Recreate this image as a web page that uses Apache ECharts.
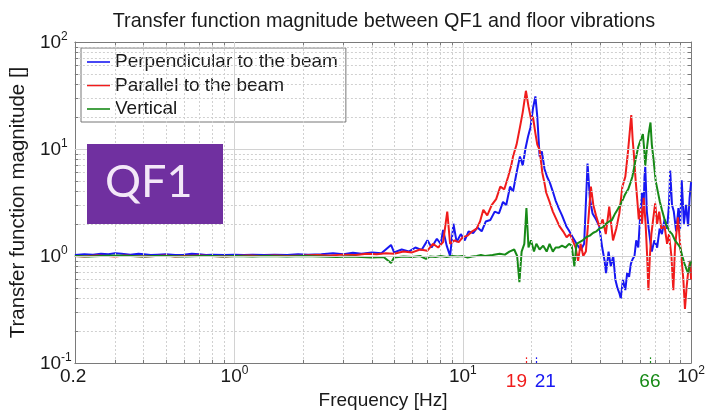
<!DOCTYPE html>
<html><head><meta charset="utf-8">
<script src="https://cdn.jsdelivr.net/npm/echarts@6/dist/echarts.min.js"></script>
<style>html,body{margin:0;padding:0;background:#fff}#c{width:708px;height:417px}</style>
</head><body><div id="c"></div>
<script>
const seriesNames = ['Perpendicular to the beam', 'Parallel to the beam', 'Vertical'];

const perpendicular = [
[0.2,1.02],[0.22,1.04],[0.24,1.03],[0.26,1.05],[0.28,1.04],[0.3,1.06],[0.32,1.05],[0.35,1.03],[0.38,1.05],[0.4,1.04],
[0.43,1.02],[0.46,1.03],[0.5,1.04],[0.55,1.02],[0.6,1.03],[0.65,1.05],[0.7,1.04],[0.75,1.02],[0.8,1.03],[0.9,1.02],
[1.0,1.03],[1.1,1.02],[1.2,1.03],[1.35,1.02],[1.5,1.03],[1.7,1.02],[1.9,1.04],[2.1,1.03],[2.4,1.04],[2.7,1.06],
[3.0,1.04],[3.3,1.07],[3.6,1.05],[4.0,1.08],[4.4,1.06],[4.85,1.27],[5.0,1.08],[5.4,1.15],[5.8,1.1],[6.2,1.2],
[6.6,1.14],[7.0,1.4],[7.3,1.2],[7.7,1.45],[8.0,1.3],[8.2,1.75],[8.5,1.25],[8.8,1.0],[9.1,2.0],[9.4,1.35],
[9.8,1.6],[10.2,1.4],[10.6,1.7],[11.1,1.64],[11.6,1.85],[12.1,1.7],[12.6,2.1],[13.2,2.17],[13.8,2.6],[14.4,2.5],
[15.0,3.2],[15.5,3.0],[16.1,4.45],[16.6,4.0],[17.2,6.0],[17.8,8.5],[18.3,7.0],[18.8,10],[19.3,13],[19.8,16],
[20.3,24],[20.8,31],[21.2,20],[21.7,8.5],[22.2,9.5],[22.8,6.5],[23.4,5.5],[24.1,4.8],[24.8,4.0],[25.5,3.3],
[26.3,2.8],[27.2,2.4],[28.4,1.9],[29.3,1.7],[30.3,1.5],[31.5,1.3],[32.9,1.14],[34.0,1.3],[35.2,7.3],[36.0,3.5],
[37.0,2.5],[38.3,2.2],[39.6,1.9],[40.8,1.2],[41.8,0.9],[42.4,0.69],[43.5,1.1],[44.5,0.8],[45.6,1.0],[46.6,0.6],
[47.6,0.5],[48.5,0.45],[49.2,0.4],[50.3,0.6],[51.5,0.48],[52.5,0.7],[53.5,0.64],[54.5,0.85],[55.4,0.93],[56.5,1.0],
[57.5,1.4],[58.7,1.2],[60.0,2.6],[61.0,3.9],[62.0,3.0],[62.5,5.5],[63.0,6.8],[64.0,2.6],[65.2,1.8],[66.5,1.3],
[67.3,1.1],[69.0,1.4],[71.0,1.2],[72.8,1.8],[74.5,1.6],[76.5,2.2],[78.5,1.8],[80.0,3.0],[81.0,6.3],[82.5,3.0],
[84.0,2.6],[86.0,1.7],[88.0,2.8],[89.5,1.8],[91.0,5.1],[93.0,2.0],[95.0,3.0],[97.0,1.9],[98.5,3.5],[100,4.9]
];

const parallel = [
[0.2,1.0],[0.22,0.99],[0.25,1.01],[0.28,1.0],[0.3,0.99],[0.33,1.01],[0.36,1.0],[0.4,0.99],[0.45,1.0],[0.5,1.01],
[0.55,0.99],[0.6,1.0],[0.7,1.01],[0.8,1.0],[0.9,0.99],[1.0,1.0],[1.15,1.01],[1.3,1.0],[1.5,1.01],[1.7,1.0],
[2.0,1.01],[2.3,1.02],[2.6,1.01],[3.0,1.03],[3.4,1.02],[3.8,1.05],[4.2,1.04],[4.6,1.06],[5.0,1.05],[5.5,1.1],
[6.0,1.08],[6.5,1.15],[7.0,1.12],[7.4,1.3],[7.8,1.2],[8.2,1.35],[8.55,2.6],[8.8,1.3],[9.2,1.4],[9.6,1.35],
[10.0,1.5],[10.5,1.55],[11.0,1.7],[11.5,1.8],[11.9,2.1],[12.3,2.7],[12.8,2.4],[13.4,3.0],[14.0,3.4],[14.6,4.45],
[15.2,4.2],[15.8,5.5],[16.3,7.0],[16.6,8.5],[17.2,11],[17.8,16],[18.3,22],[18.9,35],[19.4,25],[19.9,19],
[20.3,20],[20.8,14],[21.2,11],[21.7,9.8],[22.3,6.0],[22.8,4.8],[23.2,3.9],[24.0,3.2],[24.8,2.6],[25.7,2.2],
[26.5,1.9],[27.5,1.7],[28.5,1.5],[29.4,1.6],[30.3,1.4],[31.2,1.2],[32.0,0.9],[32.8,1.3],[33.7,1.0],[34.6,1.1],
[35.5,2.2],[36.4,4.45],[37.3,3.0],[38.3,2.4],[39.6,1.9],[41.0,2.2],[42.3,1.6],[43.8,2.9],[45.5,1.4],[47.0,1.8],
[48.5,2.5],[50.0,4.45],[51.5,5.5],[52.8,9.0],[53.8,14],[54.7,20.8],[55.5,12],[56.1,9.2],[57.2,5.0],[58.2,3.2],
[59.0,2.2],[60.0,2.8],[61.0,2.0],[62.0,3.5],[63.2,2.0],[64.2,1.0],[65.0,0.48],[66.0,1.0],[67.0,1.6],[68.2,2.2],
[69.6,3.1],[71.0,2.0],[72.5,2.6],[74.0,1.8],[76.5,1.9],[78.5,1.3],[80.0,1.6],[82.0,1.0],[83.6,0.48],[85.0,1.2],
[87.6,2.3],[89.5,1.3],[91.0,0.9],[92.5,0.6],[94.0,0.32],[95.5,0.5],[97.0,0.7],[99.0,0.9],[100,0.6]
];

const vertical = [
[0.2,1.0],[0.23,0.99],[0.26,1.0],[0.3,1.01],[0.35,1.0],[0.4,0.99],[0.45,1.0],[0.5,1.0],[0.6,0.99],[0.7,1.0],
[0.8,1.0],[0.9,0.99],[1.0,1.0],[1.2,0.99],[1.4,1.0],[1.7,0.99],[2.0,1.0],[2.4,0.99],[2.8,0.98],[3.2,0.99],
[3.6,0.98],[4.0,0.97],[4.5,0.98],[4.85,0.86],[5.0,0.97],[5.5,0.99],[6.0,0.98],[6.5,1.0],[6.9,0.94],[7.2,0.99],
[7.6,0.98],[8.0,1.0],[8.5,0.98],[9.0,1.0],[9.5,0.99],[10,1.0],[10.5,0.97],[11,0.99],[11.5,1.0],[12,1.02],
[12.5,1.0],[13.5,1.02],[14.5,1.05],[15.3,1.03],[16,1.1],[16.8,1.15],[17.3,1.0],[17.7,0.57],[18.1,1.1],[18.6,1.3],
[19.0,2.8],[19.4,1.2],[19.9,1.4],[20.5,1.1],[21,1.3],[21.7,1.15],[22.5,1.25],[23.3,1.1],[24,1.3],[24.8,1.1],
[25.5,1.2],[26.3,1.2],[27.2,1.25],[28.2,1.2],[29.2,1.3],[30,1.25],[30.8,0.8],[31.5,1.3],[32.5,1.35],[33.5,1.4],
[34.7,1.5],[36,1.55],[37.3,1.65],[38.5,1.7],[39.6,1.8],[41,1.85],[42.3,2.0],[43.7,2.1],[45,2.17],[46.5,2.5],
[48,2.8],[49,3.0],[50,3.3],[51.5,3.8],[53,4.2],[54.2,4.8],[55.3,5.5],[56.5,7.0],[57.5,8.5],[58.7,10.5],
[60,12],[61.5,13.8],[62.3,10],[63,7.0],[64,10],[65.2,14],[66.4,17.7],[67.3,11],[68.5,7.9],[70,5.0],
[71.5,4.0],[73,3.2],[74.5,2.7],[76.5,2.2],[78.5,1.9],[80.5,1.7],[82.6,1.6],[85,1.4],[87.3,1.3],[89.5,1.2],
[91.5,1.0],[93.5,0.85],[95.5,0.75],[97,0.69],[98.5,0.8],[100,0.9]
];

const xMajorGrid = [1, 10];
const xMinorGrid = [0.3,0.4,0.5,0.6,0.7,0.8,0.9,2,3,4,5,6,7,8,9,20,30,40,50,60,70,80,90];
const yMajorGrid = [1, 10];
const yMinorGrid = [0.2,0.3,0.4,0.5,0.6,0.7,0.8,0.9,2,3,4,5,6,7,8,9,20,30,40,50,60,70,80,90];
const peakFreqs = [19, 21, 66];
const peakLabels = ['19', '21', '66'];
const peakSeries = [1, 0, 2];

const FONT = 'Liberation Sans, Arial, Helvetica, sans-serif';
const colors = ['#1818f2', '#f01c1c', '#178a17'];
const X_MIN = 0.2, X_MAX = 100, Y_MIN = 0.1, Y_MAX = 100;

const rich = {
  b: { fontSize: 19, lineHeight: 20, fontFamily: FONT, color: '#1a1a1a', verticalAlign: 'bottom' },
  s: { fontSize: 12, lineHeight: 12, fontFamily: FONT, color: '#1a1a1a', verticalAlign: 'bottom', padding: [0, 0, 9, 0] }
};
function logLabel(v) {
  if (Math.abs(v - 0.2) < 1e-6) return '{b|0.2}{s| }';
  const e = Math.round(Math.log10(v));
  return '{b|10}{s|' + e + '}';
}

const gridMajor = { type: 'solid', color: '#d2d2d2', width: 1 };
const gridMinor = { type: [2, 2], color: '#d0d0d0', width: 1 };

const gridLines = [];
xMajorGrid.forEach(v => gridLines.push({ xAxis: v, lineStyle: gridMajor }));
xMinorGrid.forEach(v => gridLines.push({ xAxis: v, lineStyle: gridMinor }));
yMajorGrid.forEach(v => gridLines.push({ yAxis: v, lineStyle: gridMajor }));
yMinorGrid.forEach(v => gridLines.push({ yAxis: v, lineStyle: gridMinor }));

const tickSegs = [];
xMinorGrid.forEach(v => {
  tickSegs.push([{ coord: [v, Y_MIN] }, { coord: [v, Y_MIN * 1.07] }]);
  tickSegs.push([{ coord: [v, Y_MAX] }, { coord: [v, Y_MAX / 1.07] }]);
});
yMinorGrid.forEach(v => {
  tickSegs.push([{ coord: [X_MIN, v] }, { coord: [X_MIN * 1.035, v] }]);
  tickSegs.push([{ coord: [X_MAX, v] }, { coord: [X_MAX / 1.035, v] }]);
});

const peakPad = [[0, 20, 0, 0], [0, 0, 0, 18], [0, 0, 0, 0]];
const peakMarks = peakFreqs.map((f, i) => {
  const c = colors[peakSeries[i]];
  return [
    { coord: [f, Y_MIN],
      label: { show: true, position: 'start', distance: 9, formatter: peakLabels[i], color: c, fontSize: 19, fontFamily: FONT, padding: peakPad[i] },
      lineStyle: { color: c, type: [2, 2], width: 1.2 } },
    { coord: [f, Y_MIN * 1.13] }
  ];
});

const axisCommon = {
  type: 'log', logBase: 10,
  axisLine: { show: true, lineStyle: { color: '#7a7a7a', width: 1 } },
  axisTick: { show: true, inside: true, length: 6, lineStyle: { color: '#7a7a7a' } },
  splitLine: { show: false },
  minorTick: { show: false }
};

const chart = echarts.init(document.getElementById('c'), null, { renderer: 'canvas' });
chart.setOption({
  animation: false,
  backgroundColor: '#ffffff',
  title: {
    text: 'Transfer function magnitude between QF1 and floor vibrations',
    left: 379, textAlign: 'center', top: 7,
    textStyle: { fontSize: 19.8, fontWeight: 'normal', color: '#1a1a1a', fontFamily: FONT }
  },
  grid: { left: 72, right: 15, top: 42, bottom: 54, containLabel: false },
  legend: {
    data: seriesNames,
    orient: 'vertical', left: 81, top: 48,
    padding: [4, 8, 3, 6], itemGap: 3.5,
    icon: 'rect', itemWidth: 23, itemHeight: 1.6,
    backgroundColor: '#ffffff', borderColor: '#777777', borderWidth: 1,
    textStyle: { fontSize: 19, lineHeight: 20, color: '#1a1a1a', fontFamily: FONT }
  },
  xAxis: [
    Object.assign({}, axisCommon, {
      min: X_MIN, max: X_MAX, position: 'bottom',
      name: 'Frequency [Hz]', nameLocation: 'middle', nameGap: 24,
      nameTextStyle: { fontSize: 19, color: '#1a1a1a', fontFamily: FONT },
      axisLabel: { show: true, margin: 3, formatter: logLabel, rich: rich }
    }),
    Object.assign({}, axisCommon, {
      min: X_MIN, max: X_MAX, position: 'top', axisLabel: { show: false }
    })
  ],
  yAxis: [
    Object.assign({}, axisCommon, {
      min: Y_MIN, max: Y_MAX, position: 'left',
      name: 'Transfer function magnitude []', nameLocation: 'middle', nameGap: 36,
      nameTextStyle: { fontSize: 20.5, color: '#1a1a1a', fontFamily: FONT },
      axisLabel: { show: true, margin: 35, align: 'left', formatter: logLabel, rich: rich }
    }),
    Object.assign({}, axisCommon, {
      min: Y_MIN, max: Y_MAX, position: 'right', axisLabel: { show: false }
    })
  ],
  graphic: [
    { type: 'rect', left: 87, top: 144, shape: { width: 136, height: 80 }, style: { fill: '#7030a0' }, z: 50 },
    { type: 'text', left: 105, top: 160, style: { text: 'QF1', fontSize: 45, fontFamily: 'Lato, Open Sans, sans-serif', fill: '#f3e8f8' }, z: 51 }
  ],
  series: [
    {
      type: 'line', name: '__grid', data: [], z: 0, silent: true,
      markLine: { silent: true, symbol: 'none', animation: false, label: { show: false }, data: gridLines }
    },
    {
      type: 'line', name: '__ticks', data: [], z: 0, silent: true,
      markLine: { silent: true, symbol: 'none', animation: false, label: { show: false }, lineStyle: { color: '#7a7a7a', type: 'solid', width: 1 }, data: tickSegs }
    },
    {
      type: 'line', name: '__peaks', data: [], z: 5, silent: true,
      markLine: { silent: true, symbol: 'none', animation: false, data: peakMarks }
    },
    { type: 'line', name: seriesNames[0], data: perpendicular, showSymbol: false, symbol: 'none', z: 2,
      lineStyle: { color: colors[0], width: 2 }, itemStyle: { color: colors[0] } },
    { type: 'line', name: seriesNames[1], data: parallel, showSymbol: false, symbol: 'none', z: 3,
      lineStyle: { color: colors[1], width: 2 }, itemStyle: { color: colors[1] } },
    { type: 'line', name: seriesNames[2], data: vertical, showSymbol: false, symbol: 'none', z: 4,
      lineStyle: { color: colors[2], width: 2 }, itemStyle: { color: colors[2] } }
  ]
});
</script>
</body></html>
